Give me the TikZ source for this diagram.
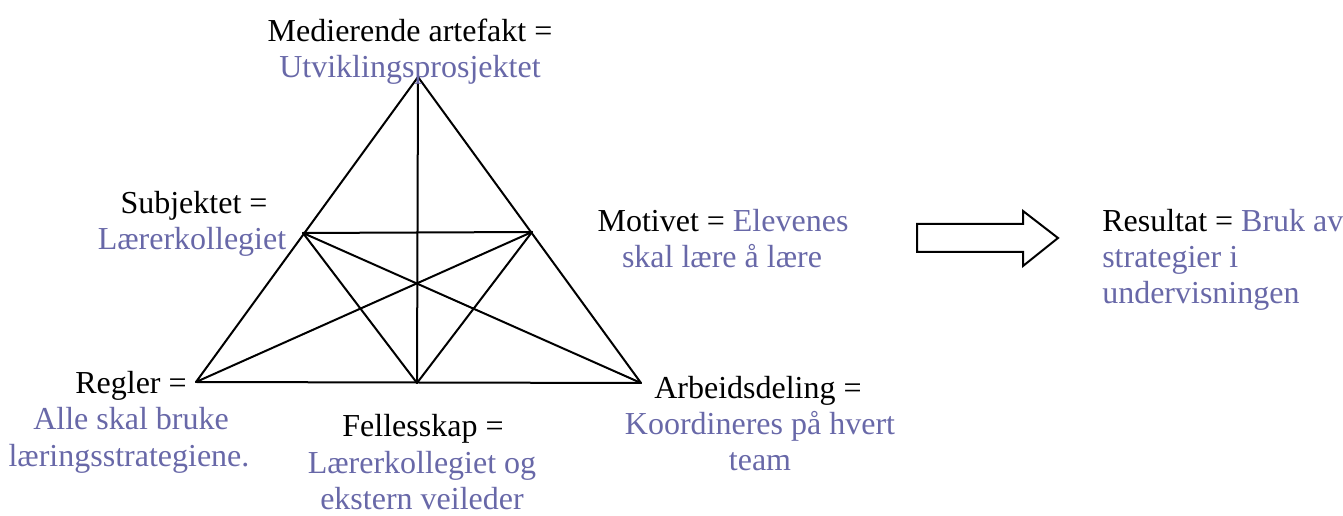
\documentclass[tikz,border=0pt]{standalone}
\usepackage{fontspec}
\setmainfont{Liberation Serif}
\definecolor{valuecol}{RGB}{104,104,168}
\begin{document}
\begin{tikzpicture}[x=0.75pt,y=-0.75pt,
  edge/.style={line width=1.5pt,line join=round,line cap=round},
  lbl/.style={anchor=base,inner sep=0pt,font=\fontsize{24}{28}\selectfont},
  val/.style={lbl,text=valuecol},
  lblw/.style={lbl,anchor=base west},
  valw/.style={lblw,text=valuecol}]
\useasboundingbox (0,0) rectangle (1343,516);

% activity triangle: corners and side midpoints
\coordinate (T)  at (418,77);
\coordinate (BL) at (196,382);
\coordinate (BR) at (641,383);
\coordinate (LM) at (303,233);
\coordinate (RM) at (532,232);
\coordinate (BM) at (417,383);

\draw[edge] (T) -- (BL) -- (BR) -- cycle;
\draw[edge] (T) -- (BM);
\draw[edge] (LM) -- (RM);
\draw[edge] (LM) -- (BM);
\draw[edge] (RM) -- (BM);
\draw[edge] (LM) -- (BR);
\draw[edge] (RM) -- (BL);

% block arrow towards the result
\draw[edge,line cap=butt,line join=miter]
  (917,224) -- (1023,224) -- (1023,211) -- (1058,238) -- (1023,266)
  -- (1023,252) -- (917,252) -- cycle;

% labels
\node[lbl] (med1) at (410,42) {Medierende artefakt =};
\node[val] (med2) at (410,78) {Utviklingsprosjektet};

\node[lbl] (sub1) at (194,214) {Subjektet =};
\node[val] (sub2) at (192,250) {Lærerkollegiet};

\node[lbl] (mot1) at (723,232) {Motivet = \textcolor{valuecol}{Elevenes}};
\node[val] (mot2) at (722,268) {skal lære å lære};

\node[lblw] (res1) at (1102,232) {Resultat = \textcolor{valuecol}{Bruk av}};
\node[valw] (res2) at (1102,268) {strategier i};
\node[valw] (res3) at (1102,304) {undervisningen};

\node[lbl] (reg1) at (131,394) {Regler =};
\node[val] (reg2) at (131,430) {Alle skal bruke};
\node[val] (reg3) at (129,467) {læringsstrategiene.};

\node[lbl] (fel1) at (423,437) {Fellesskap =};
\node[val] (fel2) at (422,474) {Lærerkollegiet og};
\node[val] (fel3) at (422,510) {ekstern veileder};

\node[lbl] (arb1) at (758,399) {Arbeidsdeling =};
\node[val] (arb2) at (760,435) {Koordineres på hvert};
\node[val] (arb3) at (760,471) {team};
\end{tikzpicture}
\end{document}
